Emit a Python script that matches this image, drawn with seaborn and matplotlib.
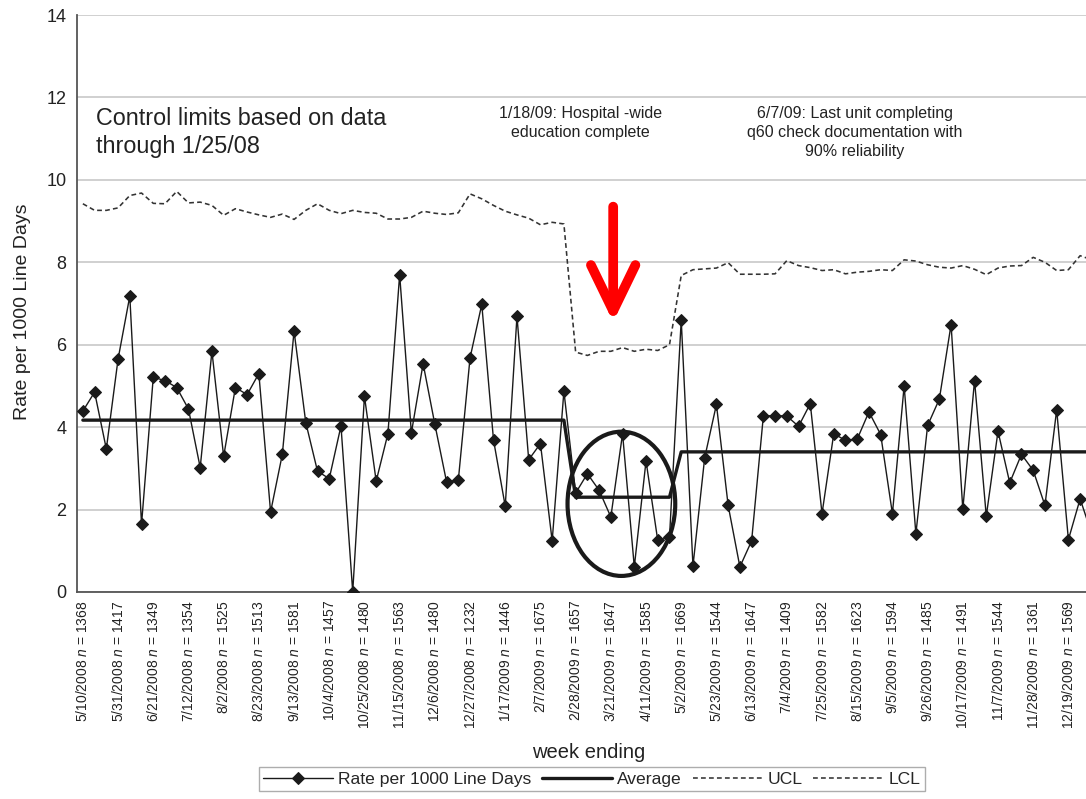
import numpy as np
import pandas as pd
import seaborn as sns
import matplotlib.pyplot as plt
from matplotlib.patches import Ellipse
from matplotlib.lines import Line2D

# 週ごとのラベル (3週ごと)
week_dates = ['5/10/2008', '5/31/2008', '6/21/2008', '7/12/2008', '8/2/2008', '8/23/2008',
              '9/13/2008', '10/4/2008', '10/25/2008', '11/15/2008', '12/6/2008', '12/27/2008',
              '1/17/2009', '2/7/2009', '2/28/2009', '3/21/2009', '4/11/2009', '5/2/2009',
              '5/23/2009', '6/13/2009', '7/4/2009', '7/25/2009', '8/15/2009', '9/5/2009',
              '9/26/2009', '10/17/2009', '11/7/2009', '11/28/2009', '12/19/2009']
week_n = [1368, 1417, 1349, 1354, 1525, 1513, 1581, 1457, 1480, 1563, 1480, 1232, 1446, 1675,
          1657, 1647, 1585, 1669, 1544, 1647, 1409, 1582, 1623, 1594, 1485, 1491, 1544, 1361, 1569]

# Rate per 1000 Line Days (毎週)
rate = [4.39, 4.85, 3.47, 5.65, 7.18, 1.64, 5.21, 5.13, 4.96, 4.44, 3.02, 5.84, 3.29, 4.96,
        4.79, 5.30, 1.94, 3.34, 6.33, 4.11, 2.93, 2.75, 4.03, 0.00, 4.75, 2.69, 3.84, 7.70,
        3.86, 5.54, 4.07, 2.67, 2.71, 5.68, 6.98, 3.69, 2.08, 6.69, 3.21, 3.60, 1.24, 4.87,
        2.40, 2.87, 2.47, 1.82, 3.84, 0.61, 3.18, 1.25, 1.33, 6.60, 0.63, 3.26, 4.55, 2.10,
        0.61, 1.24, 4.27, 4.28, 4.27, 4.02, 4.57, 1.90, 3.84, 3.68, 3.71, 4.37, 3.82, 1.90,
        5.00, 1.41, 4.04, 4.68, 6.49, 2.01, 5.13, 1.84, 3.90, 2.65, 3.34, 2.95, 2.10, 4.42,
        1.27, 2.26, 1.40]

# UCL
ucl = [9.42, 9.26, 9.26, 9.32, 9.62, 9.68, 9.43, 9.42, 9.72, 9.44, 9.46, 9.38, 9.14, 9.30,
       9.22, 9.15, 9.09, 9.17, 9.04, 9.26, 9.42, 9.26, 9.18, 9.26, 9.21, 9.19, 9.05, 9.05,
       9.09, 9.24, 9.19, 9.16, 9.20, 9.66, 9.54, 9.38, 9.24, 9.15, 9.07, 8.91, 8.97, 8.93,
       5.82, 5.74, 5.84, 5.84, 5.93, 5.84, 5.89, 5.86, 6.00, 7.68, 7.82, 7.84, 7.86, 7.99,
       7.71, 7.71, 7.71, 7.72, 8.04, 7.92, 7.87, 7.80, 7.82, 7.72, 7.76, 7.78, 7.82, 7.80,
       8.06, 8.03, 7.94, 7.88, 7.86, 7.92, 7.83, 7.70, 7.86, 7.91, 7.92, 8.12, 8.00, 7.80,
       7.82, 8.16, 8.06]

# 期間ごとの平均
phase_avg = [4.17, 2.30, 3.40]
phase_len = [42, 9, 36]

weeks = np.arange(len(rate))
avg = np.repeat(phase_avg, phase_len)
df = pd.DataFrame({'week': weeks, 'rate': rate, 'ucl': ucl, 'avg': avg})

sns.set_style('white')
plt.rcParams['font.family'] = ['Liberation Sans', 'DejaVu Sans']
plt.rcParams['mathtext.fontset'] = 'custom'
plt.rcParams['mathtext.it'] = 'Liberation Sans:italic'
plt.rcParams['mathtext.rm'] = 'Liberation Sans'

fig = plt.figure(figsize=(10.86, 7.99), dpi=100)
ax = fig.add_axes([77 / 1086, 1 - 592 / 799, 1 - 77 / 1086, 577 / 799])

ink = '#1a1a1a'
sns.lineplot(data=df, x='week', y='rate', ax=ax, color=ink, lw=1.0, marker='D',
             markersize=5.8, markeredgecolor=ink, label='Rate per 1000 Line Days', zorder=3)
sns.lineplot(data=df, x='week', y='avg', ax=ax, color=ink, lw=2.4, label='Average', zorder=3)
sns.lineplot(data=df, x='week', y='ucl', ax=ax, color='#333333', lw=1.15,
             linestyle=(0, (3, 2)), label='UCL', zorder=3)
lcl_handle = Line2D([], [], color='#333333', lw=1.15, linestyle=(0, (3, 2)), label='LCL')

ax.set_xticks(weeks[::3])
ax.set_xticks(weeks, minor=True)
ax.set_xticklabels([f'{d} $n$ = {n}' for d, n in zip(week_dates, week_n)])
ax.tick_params(axis='x', which='both', length=3, color='#999999', pad=3,
               labelsize=10, labelrotation=90, labelcolor='#222222')
ax.tick_params(axis='y', length=6, color='#c8c8c8', pad=1.5, labelsize=13, labelcolor='#222222')

ax.set_xlim(-0.5, 85.5)
ax.set_ylim(0, 14)
ax.set_yticks(range(0, 15, 2))
ax.yaxis.grid(True, color='#c8c8c8', lw=1.2)
ax.set_axisbelow(True)

for s in ['top', 'right']:
    ax.spines[s].set_visible(False)
for s in ['left', 'bottom']:
    ax.spines[s].set_color('#555555')
    ax.spines[s].set_linewidth(1.3)

ax.set_xlabel('week ending', fontsize=14.5, color='#222222')
ax.xaxis.set_label_coords(0.507, -0.262)
ax.set_ylabel('Rate per 1000 Line Days', fontsize=14, color='#222222')
ax.yaxis.set_label_coords(-0.0456, 0.485)

# 注釈
ax.text(1.13, 11.76, 'Control limits based on data\nthrough 1/25/08', fontsize=16.8,
        va='top', ha='left', color='#222222', linespacing=1.25)
ax.text(42.4, 11.80, '1/18/09: Hospital -wide\neducation complete', fontsize=11.5,
        va='top', ha='center', multialignment='center', color='#222222', linespacing=1.35)
ax.text(65.8, 11.80, '6/7/09: Last unit completing\nq60 check documentation with\n90% reliability',
        fontsize=11.5, va='top', ha='center', multialignment='center', color='#222222',
        linespacing=1.35)

# 赤い矢印と楕円
ax.annotate('', xy=(45.2, 6.55), xytext=(45.2, 9.35),
            arrowprops=dict(arrowstyle='->, head_length=3.3, head_width=1.6', color='#ff0000',
                            lw=7, shrinkA=0, shrinkB=0, mutation_scale=10,
                            capstyle='round', joinstyle='round'))
ax.add_patch(Ellipse((45.9, 2.14), 9.18, 3.5, fill=False, lw=3, ec=ink, zorder=4))

# 凡例
handles, labels = ax.get_legend_handles_labels()
ax.get_legend().remove()
handles.append(lcl_handle)
labels.append('LCL')
fig.legend(handles, labels, loc='upper center', bbox_to_anchor=(0.545, 0.040), ncol=4,
           fontsize=12.6, frameon=True, fancybox=False, edgecolor='#999999',
           handlelength=4.0, handletextpad=0.3, columnspacing=0.6, borderpad=0.25,
           borderaxespad=0)

fig.savefig('out.png', dpi=100)
